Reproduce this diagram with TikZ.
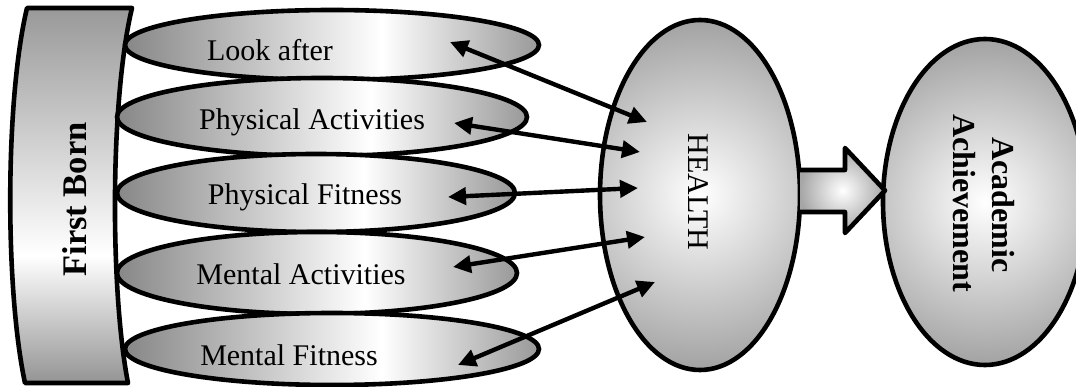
\documentclass[tikz,border=0pt]{standalone}
\usepackage{fontspec}
\setmainfont{Liberation Serif}
\usetikzlibrary{shapes.geometric,arrows.meta}
\pgfdeclarehorizontalshading{ovalshade}{100bp}{color(0bp)=(black!47); color(25bp)=(black!47); color(56bp)=(white); color(75bp)=(black!40); color(100bp)=(black!40)}
\pgfdeclareverticalshading{fbshade}{100bp}{color(0bp)=(black!42); color(25bp)=(black!42); color(42bp)=(white); color(75bp)=(black!40); color(100bp)=(black!40)}
\begin{document}
\begin{tikzpicture}[x=1pt,y=-1pt,
  oval/.style={ellipse, draw, line width=4.6pt, inner sep=0pt, shading=ovalshade},
  bigoval/.style={ellipse, draw, line width=4.6pt, inner sep=0pt},
  lbl/.style={font=\fontsize{30}{34}\selectfont, anchor=base, inner sep=0pt},
  blbl/.style={font=\fontsize{32}{38}\selectfont\bfseries, anchor=base, inner sep=0pt},
  link/.style={line width=4.4pt, {Triangle[length=18pt,width=17pt]}-{Triangle[length=18pt,width=17pt]}},
  bold/.style={line width=4.6pt, line join=round},
]
\useasboundingbox (0,0) rectangle (1076,387);
\begin{scope}
\clip (0,0) rectangle (1076,387);

% First Born block
\shade[shading=fbshade] (27,8) -- (132,8) .. controls (110,100) and (110,290) .. (128,383) -- (25,383) .. controls (5,290) and (5,100) .. (27,8) -- cycle;
\draw[bold] (27,8) -- (132,8) .. controls (110,100) and (110,290) .. (128,383) -- (25,383) .. controls (5,290) and (5,100) .. (27,8) -- cycle;
\node[blbl, font=\fontsize{34.5}{40}\selectfont\bfseries, rotate=90] (fb) at (86,199.5) {First Born};

% five ovals
\node[oval, minimum width=414pt, minimum height=70pt] (e1) at (332,45) {};
\node[oval, minimum width=410pt, minimum height=78pt] (e2) at (322,117) {};
\node[oval, minimum width=398pt, minimum height=78pt] (e3) at (316,193) {};
\node[oval, minimum width=400pt, minimum height=82pt] (e4) at (317,273) {};
\node[oval, minimum width=414pt, minimum height=72pt] (e5) at (332,349) {};

\node[lbl] (t1) at (270,61) {Look after};
\node[lbl] (t2) at (312,130) {Physical Activities};
\node[lbl] (t3) at (305,205) {Physical Fitness};
\node[lbl] (t4) at (301,285) {Mental Activities};
\node[lbl] (t5) at (289,365) {Mental Fitness};

% HEALTH
\begin{scope}
\clip (700,195) ellipse [x radius=100, y radius=175];
\shade[inner color=white, outer color=black!37] (700,195) circle [radius=178];
\end{scope}
\node[bigoval, minimum width=200pt, minimum height=350pt] (health) at (700,195) {};
\node[lbl, rotate=-90] (ht) at (688,192) {HEALTH};

% Academic Achievement
\begin{scope}
\clip (985,202) ellipse [x radius=102, y radius=163];
\shade[inner color=white, outer color=black!37] (985,202) circle [radius=166];
\end{scope}
\node[bigoval, minimum width=204pt, minimum height=326pt] (acad) at (985,202) {};
\node[blbl, rotate=-90] (at1) at (992,205) {Academic};
\node[blbl, rotate=-90] (at2) at (953,203) {Achievement};

% block arrow
\shade[inner color=white, outer color=black!35] (800,170) -- (845,170) -- (845,148) -- (885,190.5) -- (845,233) -- (845,212) -- (800,212) -- cycle;
\draw[bold] (800,170) -- (845,170) -- (845,148) -- (885,190.5) -- (845,233) -- (845,212) -- (800,212);

% connectors
\coordinate (p1) at (450,42);  \coordinate (h1) at (647,122);
\coordinate (p2) at (454,123); \coordinate (h2) at (640,152);
\coordinate (p3) at (448,197); \coordinate (h3) at (638,188);
\coordinate (p4) at (453,267); \coordinate (h4) at (645,237);
\coordinate (p5) at (458,365); \coordinate (h5) at (655,282);
\draw[link] (p1) -- (h1);
\draw[link] (p2) -- (h2);
\draw[link] (p3) -- (h3);
\draw[link] (p4) -- (h4);
\draw[link] (p5) -- (h5);
\end{scope}
\end{tikzpicture}
\end{document}
